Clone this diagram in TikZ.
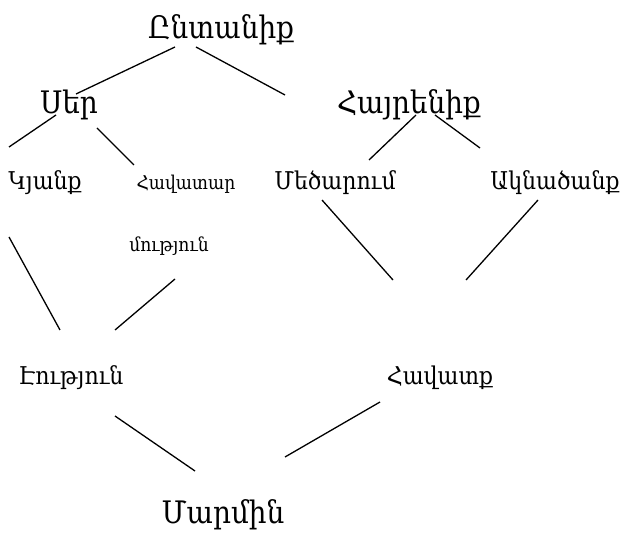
\documentclass[tikz,border=0pt]{standalone}
\usepackage{fontspec}
\setmainfont{DejaVu Serif}[FakeStretch=0.9]
\begin{document}
\begin{tikzpicture}[x=1pt,y=-1pt,
  lbl/.style={inner sep=0pt},
  big/.style={lbl,font=\fontsize{31}{33}\selectfont},
  mid/.style={lbl,font=\fontsize{24.5}{26}\selectfont},
  sml/.style={lbl,font=\fontsize{19}{21}\selectfont},
  edge/.style={line width=1.3pt}]
\useasboundingbox (0,0) rectangle (624,534);
\node[big] (ent) at (221,30) {Ընտանիք};
\node[big] (ser) at (69,105) {Սեր};
\node[big] (hay) at (409,105) {Հայրենիք};
\node[mid] (kya) at (45,183) {Կյանք};
\node[sml] (hav1) at (186,184) {Հավատար};
\node[sml] (hav2) at (169,246) {մություն};
\node[mid] (med) at (335,183) {Մեծարում};
\node[mid] (akn) at (555,183) {Ակնածանք};
\node[mid] (eut) at (71,378) {Էություն};
\node[mid] (havq) at (440,378) {Հավատք};
\node[big] (mar) at (223,515) {Մարմին};
% connector ends
\coordinate (a1) at (175,47);  \coordinate (a2) at (76,94);
\coordinate (b1) at (196,47);  \coordinate (b2) at (285,95);
\coordinate (c1) at (56,115);  \coordinate (c2) at (9,147);
\coordinate (d1) at (97,128);  \coordinate (d2) at (134,165);
\coordinate (e1) at (416,115); \coordinate (e2) at (369,160);
\coordinate (f1) at (435,115); \coordinate (f2) at (480,148);
\coordinate (g1) at (322,200); \coordinate (g2) at (393,280);
\coordinate (h1) at (538,200); \coordinate (h2) at (466,280);
\coordinate (i1) at (9,237);   \coordinate (i2) at (60,330);
\coordinate (j1) at (175,279); \coordinate (j2) at (115,330);
\coordinate (k1) at (115,416); \coordinate (k2) at (195,471);
\coordinate (l1) at (380,402); \coordinate (l2) at (285,457);
\foreach \s/\t in {a1/a2,b1/b2,c1/c2,d1/d2,e1/e2,f1/f2,g1/g2,h1/h2,i1/i2,j1/j2,k1/k2,l1/l2}
  \draw[edge] (\s) -- (\t);
\end{tikzpicture}
\end{document}
